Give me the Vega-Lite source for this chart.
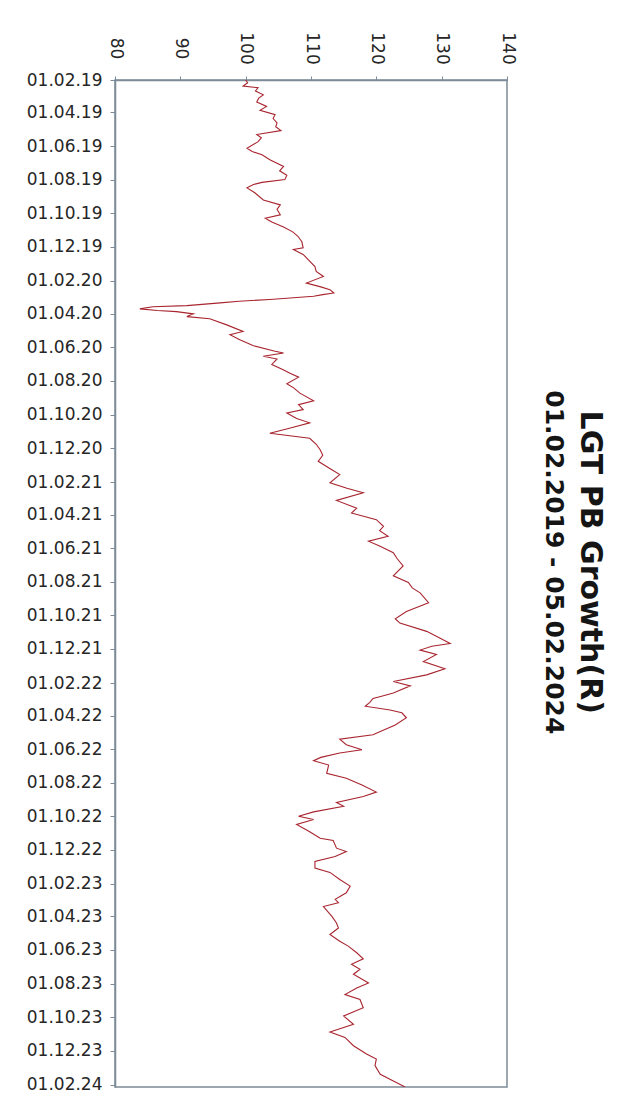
{
  "$schema": "https://vega.github.io/schema/vega-lite/v6.json",
  "autosize": "none",
  "width": 392,
  "height": 1007,
  "padding": {"left": 115, "top": 80, "right": 137, "bottom": 23},
  "background": "white",
  "title": {
    "text": "LGT PB Growth(R)",
    "subtitle": "01.02.2019 - 05.02.2024",
    "orient": "right",
    "anchor": "middle",
    "frame": "bounds",
    "font": "DejaVu Sans",
    "fontSize": 30,
    "fontWeight": "bold",
    "color": "#151515",
    "subtitleFont": "DejaVu Sans",
    "subtitleFontSize": 25,
    "subtitleFontWeight": "bold",
    "subtitleColor": "#151515",
    "subtitlePadding": 9,
    "offset": 25
  },
  "data": {
    "values": [
      {"date": "2019/02/01", "value": 100.0},
      {"date": "2019/02/06", "value": 100.3},
      {"date": "2019/02/12", "value": 99.6},
      {"date": "2019/02/15", "value": 101.9},
      {"date": "2019/02/21", "value": 101.5},
      {"date": "2019/02/28", "value": 102.7},
      {"date": "2019/03/06", "value": 102.0},
      {"date": "2019/03/13", "value": 101.7},
      {"date": "2019/03/21", "value": 103.2},
      {"date": "2019/03/28", "value": 102.2},
      {"date": "2019/04/05", "value": 104.5},
      {"date": "2019/04/12", "value": 104.2},
      {"date": "2019/04/20", "value": 104.8},
      {"date": "2019/04/27", "value": 104.6},
      {"date": "2019/05/04", "value": 105.4},
      {"date": "2019/05/11", "value": 101.7},
      {"date": "2019/05/17", "value": 102.4},
      {"date": "2019/05/24", "value": 101.9},
      {"date": "2019/06/05", "value": 100.2},
      {"date": "2019/06/11", "value": 101.0},
      {"date": "2019/06/17", "value": 102.5},
      {"date": "2019/06/26", "value": 103.7},
      {"date": "2019/07/08", "value": 105.8},
      {"date": "2019/07/16", "value": 105.2},
      {"date": "2019/07/24", "value": 106.3},
      {"date": "2019/08/01", "value": 106.0},
      {"date": "2019/08/06", "value": 102.5},
      {"date": "2019/08/10", "value": 101.2},
      {"date": "2019/08/16", "value": 100.2},
      {"date": "2019/08/25", "value": 101.4},
      {"date": "2019/09/07", "value": 102.7},
      {"date": "2019/09/16", "value": 105.3},
      {"date": "2019/09/24", "value": 104.8},
      {"date": "2019/10/04", "value": 105.3},
      {"date": "2019/10/10", "value": 103.0},
      {"date": "2019/10/17", "value": 104.0},
      {"date": "2019/10/26", "value": 105.8},
      {"date": "2019/11/04", "value": 107.2},
      {"date": "2019/11/12", "value": 108.0},
      {"date": "2019/11/22", "value": 108.6},
      {"date": "2019/12/03", "value": 108.8},
      {"date": "2019/12/06", "value": 107.3},
      {"date": "2019/12/15", "value": 108.8},
      {"date": "2020/01/06", "value": 110.6},
      {"date": "2020/01/15", "value": 110.8},
      {"date": "2020/01/24", "value": 111.9},
      {"date": "2020/02/05", "value": 109.3},
      {"date": "2020/02/12", "value": 111.5},
      {"date": "2020/02/17", "value": 112.9},
      {"date": "2020/02/23", "value": 113.5},
      {"date": "2020/02/26", "value": 111.8},
      {"date": "2020/02/29", "value": 110.4},
      {"date": "2020/03/06", "value": 103.7},
      {"date": "2020/03/09", "value": 99.0},
      {"date": "2020/03/12", "value": 96.1},
      {"date": "2020/03/17", "value": 91.0},
      {"date": "2020/03/19", "value": 85.8},
      {"date": "2020/03/23", "value": 83.8},
      {"date": "2020/03/26", "value": 86.5},
      {"date": "2020/03/28", "value": 89.4},
      {"date": "2020/04/01", "value": 92.0},
      {"date": "2020/04/06", "value": 91.0},
      {"date": "2020/04/10", "value": 94.5},
      {"date": "2020/04/21", "value": 97.1},
      {"date": "2020/05/03", "value": 99.6},
      {"date": "2020/05/09", "value": 97.6},
      {"date": "2020/05/18", "value": 99.1},
      {"date": "2020/05/29", "value": 101.2},
      {"date": "2020/06/08", "value": 104.5},
      {"date": "2020/06/11", "value": 105.8},
      {"date": "2020/06/17", "value": 102.7},
      {"date": "2020/06/22", "value": 104.8},
      {"date": "2020/07/02", "value": 104.0},
      {"date": "2020/07/10", "value": 105.5},
      {"date": "2020/07/18", "value": 106.8},
      {"date": "2020/07/25", "value": 108.1},
      {"date": "2020/08/06", "value": 106.3},
      {"date": "2020/08/14", "value": 107.4},
      {"date": "2020/08/23", "value": 108.3},
      {"date": "2020/09/06", "value": 110.4},
      {"date": "2020/09/13", "value": 108.1},
      {"date": "2020/09/22", "value": 108.8},
      {"date": "2020/09/28", "value": 106.3},
      {"date": "2020/10/08", "value": 107.8},
      {"date": "2020/10/16", "value": 109.8},
      {"date": "2020/10/25", "value": 107.0},
      {"date": "2020/11/04", "value": 103.7},
      {"date": "2020/11/13", "value": 109.8},
      {"date": "2020/11/24", "value": 110.8},
      {"date": "2020/12/04", "value": 111.4},
      {"date": "2020/12/14", "value": 111.8},
      {"date": "2020/12/25", "value": 111.1},
      {"date": "2021/01/08", "value": 113.0},
      {"date": "2021/01/18", "value": 114.4},
      {"date": "2021/02/02", "value": 112.9},
      {"date": "2021/02/12", "value": 115.5},
      {"date": "2021/02/20", "value": 118.0},
      {"date": "2021/03/06", "value": 113.9},
      {"date": "2021/03/20", "value": 117.0},
      {"date": "2021/03/29", "value": 116.2},
      {"date": "2021/04/10", "value": 120.0},
      {"date": "2021/04/22", "value": 121.1},
      {"date": "2021/04/30", "value": 120.5},
      {"date": "2021/05/10", "value": 121.8},
      {"date": "2021/05/19", "value": 118.8},
      {"date": "2021/05/28", "value": 120.5},
      {"date": "2021/06/09", "value": 122.6},
      {"date": "2021/06/20", "value": 123.2},
      {"date": "2021/07/03", "value": 124.1},
      {"date": "2021/07/21", "value": 122.6},
      {"date": "2021/08/02", "value": 124.9},
      {"date": "2021/08/12", "value": 125.5},
      {"date": "2021/08/21", "value": 126.7},
      {"date": "2021/09/08", "value": 128.0},
      {"date": "2021/09/24", "value": 124.6},
      {"date": "2021/10/07", "value": 122.9},
      {"date": "2021/10/15", "value": 123.6},
      {"date": "2021/10/30", "value": 127.7},
      {"date": "2021/11/11", "value": 129.7},
      {"date": "2021/11/21", "value": 131.3},
      {"date": "2021/11/26", "value": 128.5},
      {"date": "2021/12/03", "value": 126.7},
      {"date": "2021/12/11", "value": 129.2},
      {"date": "2021/12/24", "value": 127.2},
      {"date": "2022/01/06", "value": 130.5},
      {"date": "2022/01/17", "value": 127.7},
      {"date": "2022/01/29", "value": 122.6},
      {"date": "2022/02/06", "value": 125.2},
      {"date": "2022/02/19", "value": 122.6},
      {"date": "2022/02/25", "value": 120.8},
      {"date": "2022/03/01", "value": 119.5},
      {"date": "2022/03/08", "value": 119.0},
      {"date": "2022/03/15", "value": 118.3},
      {"date": "2022/03/22", "value": 122.1},
      {"date": "2022/03/27", "value": 123.9},
      {"date": "2022/04/05", "value": 124.6},
      {"date": "2022/04/18", "value": 122.9},
      {"date": "2022/04/30", "value": 120.6},
      {"date": "2022/05/06", "value": 119.5},
      {"date": "2022/05/14", "value": 114.4},
      {"date": "2022/05/24", "value": 115.4},
      {"date": "2022/06/02", "value": 117.8},
      {"date": "2022/06/08", "value": 114.4},
      {"date": "2022/06/16", "value": 111.5},
      {"date": "2022/06/22", "value": 110.4},
      {"date": "2022/06/30", "value": 112.7},
      {"date": "2022/07/15", "value": 112.4},
      {"date": "2022/07/24", "value": 115.4},
      {"date": "2022/08/05", "value": 117.8},
      {"date": "2022/08/18", "value": 120.0},
      {"date": "2022/08/26", "value": 118.0},
      {"date": "2022/09/06", "value": 113.9},
      {"date": "2022/09/13", "value": 115.0},
      {"date": "2022/09/23", "value": 110.4},
      {"date": "2022/10/01", "value": 108.1},
      {"date": "2022/10/07", "value": 110.4},
      {"date": "2022/10/16", "value": 107.8},
      {"date": "2022/10/29", "value": 109.8},
      {"date": "2022/11/10", "value": 111.4},
      {"date": "2022/11/14", "value": 113.4},
      {"date": "2022/11/28", "value": 113.9},
      {"date": "2022/12/04", "value": 115.4},
      {"date": "2022/12/13", "value": 113.7},
      {"date": "2022/12/22", "value": 110.6},
      {"date": "2023/01/03", "value": 110.6},
      {"date": "2023/01/11", "value": 112.9},
      {"date": "2023/01/24", "value": 114.4},
      {"date": "2023/02/05", "value": 116.0},
      {"date": "2023/02/17", "value": 115.4},
      {"date": "2023/03/01", "value": 113.7},
      {"date": "2023/03/07", "value": 114.2},
      {"date": "2023/03/14", "value": 111.9},
      {"date": "2023/04/01", "value": 113.2},
      {"date": "2023/04/13", "value": 113.9},
      {"date": "2023/04/22", "value": 114.2},
      {"date": "2023/05/04", "value": 112.9},
      {"date": "2023/05/16", "value": 114.4},
      {"date": "2023/05/25", "value": 115.7},
      {"date": "2023/06/06", "value": 117.0},
      {"date": "2023/06/17", "value": 118.0},
      {"date": "2023/06/27", "value": 116.2},
      {"date": "2023/07/06", "value": 117.5},
      {"date": "2023/07/15", "value": 116.5},
      {"date": "2023/07/31", "value": 118.8},
      {"date": "2023/08/09", "value": 117.0},
      {"date": "2023/08/21", "value": 115.2},
      {"date": "2023/08/30", "value": 117.5},
      {"date": "2023/09/14", "value": 118.0},
      {"date": "2023/09/29", "value": 115.0},
      {"date": "2023/10/14", "value": 116.5},
      {"date": "2023/10/28", "value": 112.9},
      {"date": "2023/11/07", "value": 115.2},
      {"date": "2023/11/22", "value": 116.5},
      {"date": "2023/12/07", "value": 118.5},
      {"date": "2023/12/16", "value": 120.0},
      {"date": "2023/12/28", "value": 119.8},
      {"date": "2024/01/13", "value": 120.6},
      {"date": "2024/01/25", "value": 122.6},
      {"date": "2024/02/05", "value": 124.4}
    ]
  },
  "mark": {"type": "line", "color": "#a8252f", "strokeWidth": 1.1, "clip": true},
  "encoding": {
    "y": {
      "field": "date",
      "type": "temporal",
      "scale": {
        "domain": [{"year": 2019, "month": 2, "date": 1}, {"year": 2024, "month": 2, "date": 5}],
        "reverse": true,
        "nice": false
      },
      "axis": {
        "title": null,
        "orient": "left",
        "format": "%d.%m.%y",
        "values": [
          {"year": 2019, "month": 2, "date": 1}, {"year": 2019, "month": 4, "date": 1}, {"year": 2019, "month": 6, "date": 1}, {"year": 2019, "month": 8, "date": 1}, {"year": 2019, "month": 10, "date": 1}, {"year": 2019, "month": 12, "date": 1},
          {"year": 2020, "month": 2, "date": 1}, {"year": 2020, "month": 4, "date": 1}, {"year": 2020, "month": 6, "date": 1}, {"year": 2020, "month": 8, "date": 1}, {"year": 2020, "month": 10, "date": 1}, {"year": 2020, "month": 12, "date": 1},
          {"year": 2021, "month": 2, "date": 1}, {"year": 2021, "month": 4, "date": 1}, {"year": 2021, "month": 6, "date": 1}, {"year": 2021, "month": 8, "date": 1}, {"year": 2021, "month": 10, "date": 1}, {"year": 2021, "month": 12, "date": 1},
          {"year": 2022, "month": 2, "date": 1}, {"year": 2022, "month": 4, "date": 1}, {"year": 2022, "month": 6, "date": 1}, {"year": 2022, "month": 8, "date": 1}, {"year": 2022, "month": 10, "date": 1}, {"year": 2022, "month": 12, "date": 1},
          {"year": 2023, "month": 2, "date": 1}, {"year": 2023, "month": 4, "date": 1}, {"year": 2023, "month": 6, "date": 1}, {"year": 2023, "month": 8, "date": 1}, {"year": 2023, "month": 10, "date": 1}, {"year": 2023, "month": 12, "date": 1},
          {"year": 2024, "month": 2, "date": 1}
        ],
        "grid": false,
        "labelFont": "DejaVu Sans",
        "labelFontSize": 17,
        "labelColor": "#262626",
        "labelPadding": 8,
        "labelOverlap": false,
        "labelBound": false,
        "labelFlush": false,
        "tickSize": 5,
        "tickColor": "#7d8a97",
        "domainColor": "#7d8a97",
        "domainWidth": 1.5
      }
    },
    "x": {
      "field": "value",
      "type": "quantitative",
      "scale": {"domain": [80, 140], "nice": false, "zero": false},
      "axis": {
        "title": null,
        "orient": "top",
        "values": [80, 90, 100, 110, 120, 130, 140],
        "grid": false,
        "labelAngle": 90,
        "labelAlign": "center",
        "labelBaseline": "middle",
        "labelFont": "DejaVu Sans",
        "labelFontSize": 17,
        "labelColor": "#262626",
        "labelPadding": 28,
        "labelFlush": false,
        "labelOverlap": false,
        "tickSize": 4,
        "tickColor": "#7d8a97",
        "domainColor": "#7d8a97",
        "domainWidth": 1.5
      }
    }
  },
  "config": {
    "view": {"stroke": "#7d8a97", "strokeWidth": 1.5}
  }
}
